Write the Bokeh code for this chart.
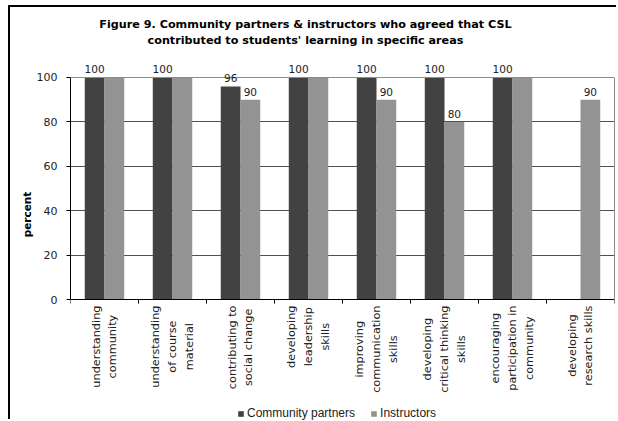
import numpy as np
from bokeh.plotting import figure
from bokeh.models import (ColumnDataSource, LabelSet, Label, Legend, LegendItem,
                          FixedTicker, Range1d, LinearAxis, Span,
                          CustomJSTickFormatter)
from bokeh.core.properties import value
from bokeh.embed import file_html
from bokeh.resources import INLINE

# ---- data ---------------------------------------------------------------
categories = [
    "understanding\ncommunity",
    "understanding\nof course\nmaterial",
    "contributing to\nsocial change",
    "developing\nleadership\nskills",
    "improving\ncommunication\nskills",
    "developing\ncritical thinking\nskills",
    "encouraging\nparticipation in\ncommunity",
    "developing\nresearch skills",
]
partners = [100, 100, 96, 100, 100, 100, 100, 0]
instructors = [100, 100, 90, 100, 90, 80, 100, 90]
series_names = ["Community partners", "Instructors"]
y_ticks = [0, 20, 40, 60, 80, 100]
title_text = ("Figure 9. Community partners & instructors who agreed that CSL\n"
              "contributed to students' learning in specific areas")
y_title = "percent"

# ---- style ----------------------------------------------------------------
DARK = "#424242"
LIGHT = "#939393"
BAR_W = 0.29
FONT = "DejaVu Sans"
Y_MIN, Y_MAX = 0, 100
# the frame reaches past the value axis so that titles, value labels and
# category names can sit inside it
PAD_BELOW, PAD_ABOVE = 54.95, 31.53

n = len(categories)
centers = np.arange(n) + 0.5
blank = CustomJSTickFormatter(code="return ''")

p = figure(width=608, height=414,
           x_range=Range1d(0, n), y_range=Range1d(Y_MIN - PAD_BELOW, Y_MAX + PAD_ABOVE),
           output_backend="svg", toolbar_location=None,
           min_border_left=60, min_border_right=4,
           min_border_top=0, min_border_bottom=0,
           background_fill_color="white", border_fill_color="white")
p.styles = {"margin-left": "8px", "margin-top": "5px",
            "border-left": "2px solid #000", "border-top": "2px solid #000"}
p.outline_line_color = None

# y axis (value scale only spans 0-100)
p.yaxis.bounds = (Y_MIN, Y_MAX)
p.yaxis.ticker = FixedTicker(ticks=y_ticks)
p.yaxis.major_tick_in = 0
p.yaxis.major_tick_out = 4
p.yaxis.minor_tick_line_color = None
p.yaxis.axis_line_color = "black"
p.yaxis.major_tick_line_color = "black"
p.yaxis.major_label_text_font = FONT
p.yaxis.major_label_text_font_size = "11px"
p.yaxis.major_label_text_color = "#222222"
p.yaxis.major_label_standoff = 9
p.yaxis.axis_label = y_title
p.yaxis.axis_label_text_font = FONT
p.yaxis.axis_label_text_font_size = "10.5px"
p.yaxis.axis_label_text_font_style = "bold"
p.yaxis.axis_label_text_color = "black"
p.yaxis.axis_label_standoff = 1

# x axis at zero: ticks between categories, names drawn as rotated labels
p.xaxis.fixed_location = 0
p.xaxis.ticker = FixedTicker(ticks=list(range(n + 1)))
p.xaxis.formatter = blank
p.xaxis.major_tick_in = 0
p.xaxis.major_tick_out = 4
p.xaxis.minor_tick_line_color = None
p.xaxis.axis_line_color = "black"
p.xaxis.major_tick_line_color = "black"
p.xaxis.major_label_standoff = 0

# right edge of the value area
right_edge = LinearAxis(bounds=(Y_MIN, Y_MAX), ticker=FixedTicker(ticks=[]),
                        axis_line_color="#8c8c8c", major_tick_line_color=None,
                        minor_tick_line_color=None, formatter=blank,
                        major_label_standoff=0)
p.add_layout(right_edge, "right")

p.xgrid.visible = False
p.ygrid.ticker = FixedTicker(ticks=[t for t in y_ticks if Y_MIN < t < Y_MAX])
p.ygrid.grid_line_color = "#505050"
p.ygrid.grid_line_width = 1
p.add_layout(Span(location=Y_MAX, dimension="width",
                  line_color="#8c8c8c", line_width=1))

# bars
src_p = ColumnDataSource(dict(
    x=centers - BAR_W / 2, top=partners,
    label=[str(v) if v > 0 else "" for v in partners]))
src_i = ColumnDataSource(dict(
    x=centers + BAR_W / 2, top=instructors,
    label=[str(v) if v < 100 else "" for v in instructors]))

r_p = p.vbar(x="x", top="top", width=BAR_W, source=src_p,
             fill_color=DARK, line_color=None)
r_i = p.vbar(x="x", top="top", width=BAR_W, source=src_i,
             fill_color=LIGHT, line_color=None)

for src in (src_p, src_i):
    p.add_layout(LabelSet(x="x", y="top", text="label", source=src,
                          y_offset=4, text_align="center", text_baseline="bottom",
                          text_font=value(FONT), text_font_size="10.5px",
                          text_color="#222222"))

# category names, rotated, lines centred within each block
for cx, name in zip(centers, categories):
    p.add_layout(Label(x=cx, y=0, y_offset=-6, text=name,
                       angle=90, angle_units="deg", anchor="center_right",
                       text_align="center", text_baseline="middle",
                       text_line_height=1.3,
                       text_font=FONT, text_font_size="11.3px",
                       text_color="#222222"))

# chart title
p.add_layout(Label(x=n / 2, y=Y_MAX, x_offset=-37, y_offset=59, text=title_text,
                   text_align="center", text_baseline="top",
                   text_line_height=1.2,
                   text_font=FONT, text_font_size="11.2px",
                   text_font_style="bold", text_color="black"))

# legend under the category names
legend = Legend(items=[LegendItem(label=series_names[0], renderers=[r_p]),
                       LegendItem(label=series_names[1], renderers=[r_i])],
                orientation="horizontal", location=(167, 1),
                glyph_width=7, glyph_height=7, label_standoff=3, spacing=15,
                label_height=12, padding=0, margin=0,
                label_text_font="Liberation Sans", label_text_font_size="12px",
                label_text_color="#222222",
                border_line_color=None, background_fill_alpha=0)
p.add_layout(legend, "center")

open("out.html", "w").write(file_html(p, INLINE))
